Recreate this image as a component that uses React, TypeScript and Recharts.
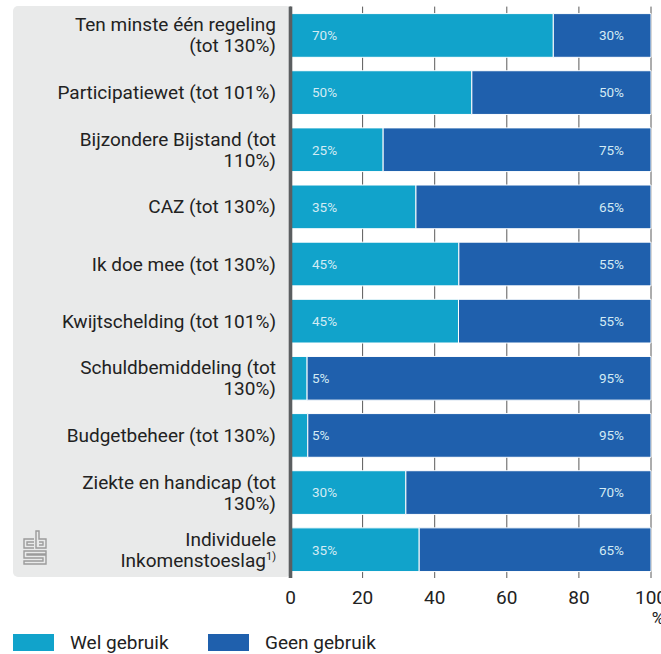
import React from "react";
import {
  BarChart,
  Bar,
  XAxis,
  YAxis,
  CartesianGrid,
  LabelList,
} from "recharts";

// categories, "\n" = line break, "^" = superscript footnote
const categories = [
  "Ten minste één regeling\n(tot 130%)",
  "Participatiewet (tot 101%)",
  "Bijzondere Bijstand (tot\n110%)",
  "CAZ (tot 130%)",
  "Ik doe mee (tot 130%)",
  "Kwijtschelding (tot 101%)",
  "Schuldbemiddeling (tot\n130%)",
  "Budgetbeheer (tot 130%)",
  "Ziekte en handicap (tot\n130%)",
  "Individuele\nInkomenstoeslag^1)",
];

// bar lengths as drawn (%)
const welGebruik = [72.9, 50.3, 25.7, 34.8, 46.7, 46.6, 4.6, 4.8, 32.0, 35.7];
const geenGebruik = [27.1, 49.7, 74.3, 65.2, 53.3, 53.4, 95.4, 95.2, 68.0, 64.3];

// printed (rounded) labels
const welLabels = [70, 50, 25, 35, 45, 45, 5, 5, 30, 35];
const geenLabels = [30, 50, 75, 65, 55, 55, 95, 95, 70, 65];

const xTicks = [0, 20, 40, 60, 80, 100];

const LIGHT = "#11a3cb";
const DARK = "#1f60ad";
const FONT = "Roboto, 'Noto Sans', sans-serif";

const data = categories.map((name, i) => ({
  name,
  wel: welGebruik[i],
  geen: geenGebruik[i],
  welLabel: welLabels[i],
  geenLabel: geenLabels[i],
}));

function CategoryTick(props: any) {
  const { x, y, payload } = props;
  const lines: string[] = String(payload.value).split("\n");
  const lh = 21;
  const first = y - ((lines.length - 1) * lh) / 2 + 6.8;
  return (
    <g>
      {lines.map((line, i) => {
        const [main, sup] = line.split("^");
        return (
          <text
            key={i}
            x={x}
            y={first + i * lh}
            textAnchor="end"
            fontFamily={FONT}
            fontSize={19}
            fill="#222"
          >
            {main}
            {sup && (
              <tspan fontSize={11} dy={-7}>
                {sup}
              </tspan>
            )}
          </text>
        );
      })}
    </g>
  );
}

function WelLabel(p: any) {
  return (
    <text
      x={p.x + 21.5}
      y={p.y + p.height / 2 + 4.8}
      fontFamily={FONT}
      fontSize={13.5}
      fill="#d3ebf4"
    >
      {p.value}%
    </text>
  );
}

function GeenLabel(p: any) {
  return (
    <text
      x={p.x + p.width - 27}
      y={p.y + p.height / 2 + 4.8}
      textAnchor="end"
      fontFamily={FONT}
      fontSize={13.5}
      fill="#d3ebf4"
    >
      {p.value}%
    </text>
  );
}

function CbsLogo() {
  return (
    <svg
      width={26}
      height={37}
      style={{ position: "absolute", left: 22, top: 530 }}
      fill="none"
      stroke="#9b9b9b"
      strokeWidth={1.4}
    >
      <path d="M12 9 H2 V18 H12 M12 12 H5 V15 H12" />
      <path d="M14 1 V18 H24 V9 H17 V1 Z M17 12 H21 V15 H17" />
      <path d="M24 21 H2 V28 H21 V31 H2 V34 H24 V25 H5 V24 H24 Z" />
    </svg>
  );
}

export default function App() {
  return (
    <div style={{ position: "absolute", left: 0, top: 0, width: 661, height: 654 }}>
      <div
        style={{
          position: "absolute",
          left: 13,
          top: 6,
          width: 278,
          height: 571,
          background: "#e9eaea",
          borderRadius: 5,
        }}
      />
      <CbsLogo />
      <div style={{ position: "absolute", left: 0, top: 0 }}>
        <BarChart
          width={661}
          height={654}
          data={data}
          layout="vertical"
          margin={{ top: 6.6, right: 10, bottom: 0, left: 0 }}
          barSize={43.7}
        >
          <CartesianGrid horizontal={false} stroke="#5a5a5a" strokeWidth={1} />
          <XAxis
            type="number"
            domain={[0, 100]}
            ticks={xTicks}
            height={76}
            axisLine={false}
            tickLine={false}
            tickSize={0}
            tickMargin={12.5}
            interval={0}
            tick={{ fill: "#222", fontSize: 19, fontFamily: FONT }}
            label={{
              content: (p: any) => (
                <text
                  x={p.viewBox.x + p.viewBox.width + 7}
                  y={p.viewBox.y + 46}
                  textAnchor="middle"
                  fontFamily={FONT}
                  fontSize={17}
                  fill="#222"
                >
                  %
                </text>
              ),
            }}
          />
          <Bar dataKey="wel" stackId="a" fill={LIGHT} stroke="#ffffff" strokeWidth={1} isAnimationActive={false}>
            <LabelList dataKey="welLabel" content={WelLabel} />
          </Bar>
          <Bar dataKey="geen" stackId="a" fill={DARK} stroke="#ffffff" strokeWidth={1} isAnimationActive={false}>
            <LabelList dataKey="geenLabel" content={GeenLabel} />
          </Bar>
          <YAxis
            type="category"
            dataKey="name"
            width={290.5}
            axisLine={{ stroke: "#5b5e60", strokeWidth: 3.6 }}
            tickLine={false}
            tickSize={0}
            tickMargin={14.5}
            interval={0}
            tick={<CategoryTick />}
          />
        </BarChart>
      </div>
      {[
        { label: "Wel gebruik", color: LIGHT, left: 13 },
        { label: "Geen gebruik", color: DARK, left: 208 },
      ].map((item) => (
        <div
          key={item.label}
          style={{
            position: "absolute",
            left: item.left,
            top: 631,
            display: "flex",
            alignItems: "center",
            fontFamily: FONT,
            fontSize: 19,
            color: "#222",
          }}
        >
          <span
            style={{
              display: "inline-block",
              width: 41,
              height: 17,
              background: item.color,
              marginRight: 16,
            }}
          />
          {item.label}
        </div>
      ))}
    </div>
  );
}
